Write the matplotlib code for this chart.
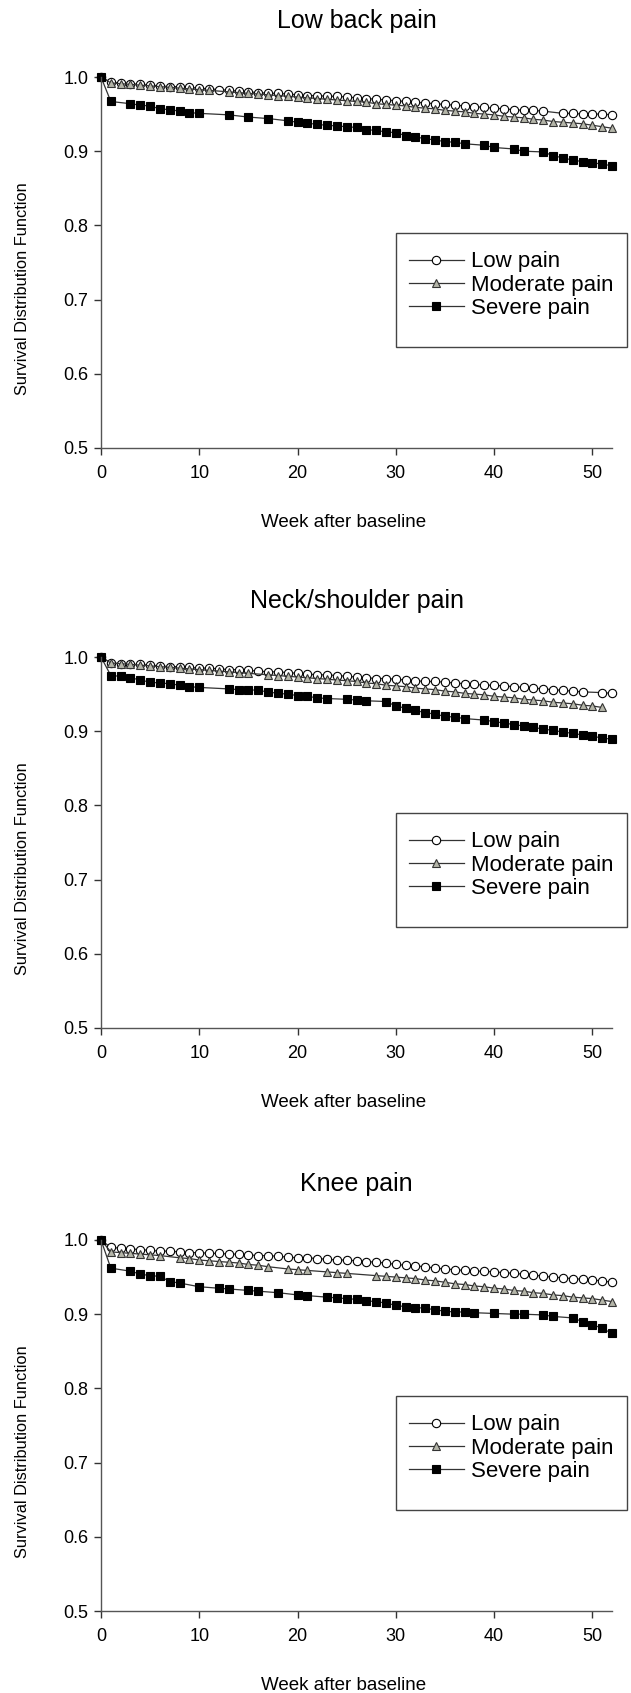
import numpy as np
import matplotlib
matplotlib.use('Agg')
import matplotlib.pyplot as plt
from matplotlib.patches import Rectangle
from matplotlib.lines import Line2D

fnt = {'family': ['Liberation Sans', 'DejaVu Sans'], 'size': 12}
matplotlib.rc('font', **fnt)

# ---- data ----
# Low back pain
lbp_low_wk = list(range(0, 46)) + list(range(47, 53))
lbp_low = [1.000, 0.993, 0.992, 0.991, 0.990, 0.989, 0.988, 0.987, 0.987, 0.986,
           0.985, 0.984, 0.983, 0.982, 0.981, 0.980, 0.979, 0.978, 0.978, 0.977,
           0.976, 0.975, 0.975, 0.974, 0.974, 0.973, 0.972, 0.971, 0.970, 0.969,
           0.968, 0.967, 0.966, 0.965, 0.964, 0.963, 0.962, 0.961, 0.960, 0.959,
           0.958, 0.957, 0.956, 0.955, 0.955, 0.954,
           0.951, 0.951, 0.950, 0.950, 0.950, 0.949]
lbp_mod_wk = list(range(0, 12)) + list(range(13, 53))
lbp_mod = [1.000, 0.992, 0.991, 0.990, 0.989, 0.988, 0.987, 0.986, 0.985, 0.984,
           0.983, 0.982,
           0.980, 0.979, 0.978, 0.977, 0.976, 0.975, 0.974, 0.973, 0.972, 0.971,
           0.970, 0.969, 0.968, 0.967, 0.966, 0.964, 0.963, 0.962, 0.961, 0.959,
           0.958, 0.957, 0.955, 0.954, 0.953, 0.951, 0.950, 0.949, 0.947, 0.946,
           0.945, 0.943, 0.942, 0.940, 0.939, 0.938, 0.937, 0.935, 0.933, 0.931]
lbp_sev_wk = [0, 1, 3, 4, 5, 6, 7, 8, 9, 10, 13, 15, 17, 19] + list(range(20, 38)) + \
             [39, 40, 42, 43] + list(range(45, 53))
lbp_sev = [1.000, 0.967, 0.964, 0.962, 0.961, 0.957, 0.956, 0.954, 0.952, 0.951,
           0.949, 0.946, 0.944, 0.941,
           0.939, 0.938, 0.936, 0.935, 0.934, 0.933, 0.932, 0.929, 0.928, 0.926,
           0.925, 0.921, 0.919, 0.917, 0.915, 0.913, 0.912, 0.910,
           0.908, 0.905, 0.903, 0.900,
           0.899, 0.894, 0.891, 0.888, 0.886, 0.884, 0.883, 0.880]

# Neck/shoulder pain
nsp_low_wk = list(range(0, 50)) + [51, 52]
nsp_low = [1.000, 0.992, 0.991, 0.990, 0.990, 0.989, 0.988, 0.987, 0.987, 0.986,
           0.985, 0.985, 0.984, 0.983, 0.983, 0.982, 0.981, 0.980, 0.980, 0.979,
           0.978, 0.977, 0.976, 0.976, 0.975, 0.974, 0.973, 0.972, 0.971, 0.971,
           0.970, 0.969, 0.968, 0.967, 0.967, 0.966, 0.965, 0.964, 0.963, 0.962,
           0.962, 0.961, 0.960, 0.959, 0.958, 0.957, 0.956, 0.955, 0.954, 0.953,
           0.952, 0.951]
nsp_mod_wk = list(range(0, 16)) + list(range(17, 52))
nsp_mod = [1.000, 0.992, 0.991, 0.990, 0.989, 0.988, 0.987, 0.986, 0.985, 0.984,
           0.983, 0.982, 0.981, 0.980, 0.979, 0.978,
           0.976, 0.975, 0.974, 0.973, 0.972, 0.971, 0.970, 0.969, 0.968, 0.967,
           0.965, 0.964, 0.962, 0.961, 0.960, 0.958, 0.957, 0.956, 0.954, 0.953,
           0.951, 0.950, 0.949, 0.947, 0.946, 0.945, 0.943, 0.942, 0.941, 0.939,
           0.938, 0.937, 0.935, 0.934, 0.932]
nsp_sev_wk = list(range(0, 11)) + list(range(13, 24)) + [25, 26, 27] + \
             list(range(29, 38)) + list(range(39, 53))
nsp_sev = [1.000, 0.975, 0.974, 0.972, 0.969, 0.966, 0.965, 0.964, 0.962, 0.960,
           0.959,
           0.957, 0.956, 0.956, 0.955, 0.953, 0.951, 0.950, 0.948, 0.947, 0.945,
           0.944,
           0.943, 0.942, 0.941,
           0.940, 0.934, 0.931, 0.928, 0.925, 0.923, 0.920, 0.919, 0.917,
           0.915, 0.913, 0.911, 0.909, 0.907, 0.905, 0.903, 0.901, 0.899, 0.897,
           0.895, 0.893, 0.891, 0.889]

# Knee pain
kp_low_wk = list(range(0, 53))
kp_low = [1.000, 0.990, 0.989, 0.988, 0.987, 0.986, 0.985, 0.985, 0.984, 0.983,
          0.983, 0.982, 0.982, 0.981, 0.981, 0.980, 0.979, 0.979, 0.978, 0.977,
          0.976, 0.976, 0.975, 0.974, 0.973, 0.973, 0.972, 0.971, 0.970, 0.969,
          0.967, 0.966, 0.965, 0.964, 0.962, 0.961, 0.960, 0.959, 0.958, 0.958,
          0.957, 0.956, 0.955, 0.954, 0.953, 0.951, 0.950, 0.949, 0.948, 0.947,
          0.946, 0.945, 0.943]
kp_mod_wk = list(range(0, 7)) + list(range(8, 18)) + [19, 20, 21, 23, 24, 25] + \
            list(range(28, 53))
kp_mod = [1.000, 0.984, 0.983, 0.982, 0.981, 0.980, 0.979,
          0.976, 0.975, 0.973, 0.972, 0.971, 0.970, 0.969, 0.967, 0.966, 0.964,
          0.961, 0.960, 0.959, 0.957, 0.956, 0.955,
          0.952, 0.951, 0.950, 0.949, 0.948, 0.946, 0.945, 0.943, 0.941, 0.940,
          0.938, 0.937, 0.935, 0.934, 0.932, 0.931, 0.929, 0.928, 0.926, 0.925,
          0.923, 0.922, 0.921, 0.919, 0.917]
kp_sev_wk = [0, 1, 3, 4, 5, 6, 7, 8, 10, 12, 13, 15, 16, 18, 20, 21] + \
            list(range(23, 39)) + [40, 42, 43, 45, 46] + list(range(48, 53))
kp_sev = [1.000, 0.962, 0.958, 0.954, 0.952, 0.951, 0.944, 0.942,
          0.937, 0.935, 0.934, 0.932, 0.931, 0.929, 0.926, 0.925,
          0.923, 0.922, 0.921, 0.920, 0.918, 0.917, 0.915, 0.912, 0.910, 0.909,
          0.908, 0.906, 0.904, 0.903, 0.903, 0.902,
          0.901, 0.900, 0.900, 0.899, 0.897,
          0.895, 0.890, 0.886, 0.881, 0.874]

titles = ['Low back pain', 'Neck/shoulder pain', 'Knee pain']
panels = [
    ((lbp_low_wk, lbp_low), (lbp_mod_wk, lbp_mod), (lbp_sev_wk, lbp_sev)),
    ((nsp_low_wk, nsp_low), (nsp_mod_wk, nsp_mod), (nsp_sev_wk, nsp_sev)),
    ((kp_low_wk, kp_low), (kp_mod_wk, kp_mod), (kp_sev_wk, kp_sev)),
]
series_names = ['Low pain', 'Moderate pain', 'Severe pain']
styles = [dict(marker='o', mfc='white', mec='black', ms=6.0),
          dict(marker='^', mfc='#b4b5a8', mec='#333333', ms=6.0),
          dict(marker='s', mfc='black', mec='black', ms=5.4)]
linecol = '#333333'

W, H = 631, 1693
fig = plt.figure(figsize=(W / 100, H / 100), dpi=100)

ax_left, ax_w, ax_h = 101, 511, 371
tops = [77, 657, 1240]

for i in range(3):
    bottom = H - tops[i] - ax_h
    ax = fig.add_axes([ax_left / W, bottom / H, ax_w / W, ax_h / H])
    for (wk, val), st in zip(panels[i], styles):
        ax.plot(wk, val, color=linecol, lw=0.9, mew=0.8, clip_on=False, **st)
    ax.set_xlim(0, 52)
    ax.set_ylim(0.5, 1.0)
    ax.set_xticks([0, 10, 20, 30, 40, 50])
    ax.set_yticks([0.5, 0.6, 0.7, 0.8, 0.9, 1.0])
    ax.yaxis.set_major_formatter(matplotlib.ticker.FormatStrFormatter('%.1f'))
    ax.spines['top'].set_visible(False)
    ax.spines['right'].set_visible(False)
    for s in ['left', 'bottom']:
        ax.spines[s].set_color('#555555')
        ax.spines[s].set_linewidth(1.0)
    ax.tick_params(direction='out', length=5, width=1.0, color='#333333',
                   labelsize=13)
    ax.tick_params(axis='x', pad=7)
    ax.tick_params(axis='y', pad=4)
    ax.set_title(titles[i], fontsize=18, pad=35)
    ax.set_xlabel('Week after baseline', fontsize=13.5)
    ax.xaxis.set_label_coords(0.475, -0.178)
    ax.set_ylabel('Survival Distribution Function', fontsize=11.8)
    ax.yaxis.set_label_coords(-0.138, 0.43)

    # legend box, wider than the entries, as in the original
    box = Rectangle((0.578, 0.273), 1.03 - 0.578, 0.306, transform=ax.transAxes,
                    fill=False, edgecolor='#444444', lw=1.0, clip_on=False)
    ax.add_patch(box)
    handles = [Line2D([0], [0], color=linecol, lw=0.9, mew=0.8, **st) for st in styles]
    ax.legend(handles, series_names, loc='upper left', bbox_to_anchor=(0.603, 0.53),
              frameon=False, fontsize=16, handlelength=2.45, labelspacing=0.11,
              handletextpad=0.35, borderaxespad=0.0, borderpad=0.0)

fig.savefig('out.png', dpi=100)
